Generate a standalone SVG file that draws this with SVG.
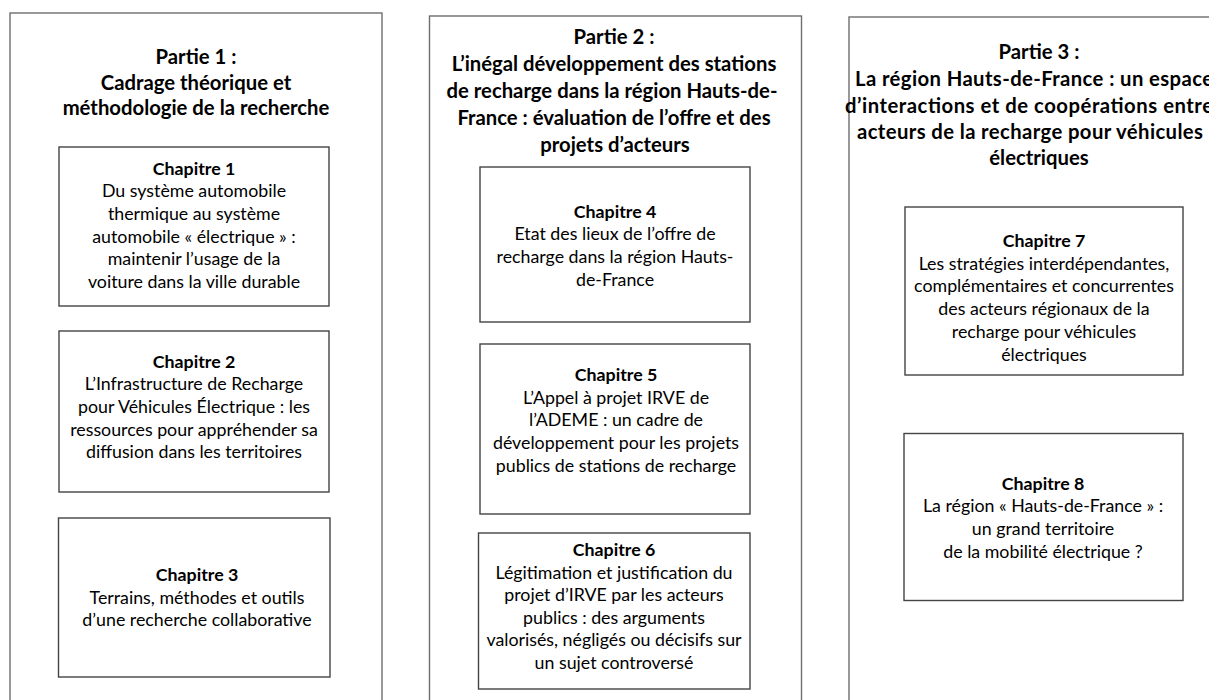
<svg xmlns="http://www.w3.org/2000/svg" width="1209" height="700" viewBox="0 0 1209 700">
<style>
.part{fill:#fff;stroke:#6e6e6e;stroke-width:1.4}
.chap{fill:#fff;stroke:#444;stroke-width:1.4}
.t{font-family:Lato,"Liberation Sans",sans-serif;font-weight:700;font-size:20.3px;fill:#000;text-anchor:middle}
.c{font-family:Lato,"Liberation Sans",sans-serif;font-size:17.8px;fill:#000;text-anchor:middle}
.cb{font-weight:700}
.s{text-anchor:start}
</style>
<rect width="1209" height="700" fill="#fff"/>
<g id="partie1">
<rect class="part" x="10" y="13" width="372" height="700"/>
<text class="t" x="196"><tspan x="196" y="64">Partie 1 :</tspan><tspan x="196" y="89.5">Cadrage théorique et</tspan><tspan x="196" y="115">méthodologie de la recherche</tspan></text>
</g>
<g id="chapitre1">
<rect class="chap" x="59" y="147" width="270" height="159"/>
<text class="c" x="194"><tspan class="cb" x="194" y="174.5">Chapitre 1</tspan><tspan x="194" y="197">Du système automobile</tspan><tspan x="194" y="219.8">thermique au système</tspan><tspan x="194" y="242.6">automobile « électrique » :</tspan><tspan x="194" y="265.4">maintenir l’usage de la</tspan><tspan x="194" y="288.2">voiture dans la ville durable</tspan></text>
</g>
<g id="chapitre2">
<rect class="chap" x="59" y="331" width="270" height="161"/>
<text class="c" x="194"><tspan class="cb" x="194" y="367.5">Chapitre 2</tspan><tspan x="194" y="390.2">L’Infrastructure de Recharge</tspan><tspan x="194" y="412.9">pour Véhicules Électrique : les</tspan><tspan x="194" y="435.6">ressources pour appréhender sa</tspan><tspan x="194" y="458.3">diffusion dans les territoires</tspan></text>
</g>
<g id="chapitre3">
<rect class="chap" x="58.5" y="518" width="271.5" height="159"/>
<text class="c" x="197"><tspan class="cb" x="197" y="581">Chapitre  3</tspan><tspan x="197" y="603.7">Terrains, méthodes et outils</tspan><tspan x="197" y="626.4">d’une recherche collaborative</tspan></text>
</g>
<g id="partie2">
<rect class="part" x="429.5" y="16" width="372" height="700"/>
<text class="t" x="614"><tspan x="614" y="43.5">Partie 2 :</tspan><tspan x="614" y="70.5">L’inégal développement des stations</tspan><tspan x="612" y="97.5">de recharge dans la région Hauts-de-</tspan><tspan x="614" y="124.5">France : évaluation de l’offre et des</tspan><tspan x="615" y="151.5">projets d’acteurs</tspan></text>
</g>
<g id="chapitre4">
<rect class="chap" x="480" y="167" width="270" height="155"/>
<text class="c" x="615"><tspan class="cb" x="615" y="217.5">Chapitre 4</tspan><tspan x="615" y="240.3">Etat des lieux de l’offre de</tspan><tspan x="615" y="263.1">recharge dans la région Hauts-</tspan><tspan x="615" y="285.9">de-France</tspan></text>
</g>
<g id="chapitre5">
<rect class="chap" x="480" y="344" width="270" height="170"/>
<text class="c" x="616"><tspan class="cb" x="616" y="381">Chapitre  5</tspan><tspan x="616" y="403.7">L’Appel à projet IRVE de</tspan><tspan x="616" y="426.4">l’ADEME : un cadre de</tspan><tspan x="616" y="449.1">développement pour les projets</tspan><tspan x="616" y="471.8">publics de stations de recharge</tspan></text>
</g>
<g id="chapitre6">
<rect class="chap" x="478.5" y="533" width="271.5" height="156"/>
<text class="c" x="614"><tspan class="cb" x="614" y="556">Chapitre 6</tspan><tspan x="614" y="578.6">Légitimation et justification du</tspan><tspan x="614" y="601.2">projet d’IRVE par les acteurs</tspan><tspan x="614" y="623.8">publics : des arguments</tspan><tspan x="614" y="646.4">valorisés, négligés ou décisifs sur</tspan><tspan x="614" y="669">un sujet controversé</tspan></text>
</g>
<g id="partie3">
<rect class="part" x="849" y="17" width="380" height="700"/>
<text class="t" x="1039"><tspan x="1039" y="59">Partie 3 :</tspan><tspan class="s" x="855" y="86" textLength="358">La région Hauts-de-France : un espace</tspan><tspan class="s" x="845" y="112.5" textLength="368">d’interactions et de coopérations entre</tspan><tspan class="s" x="857" y="139" textLength="346">acteurs de la recharge pour véhicules</tspan><tspan x="1039" y="165">électriques</tspan></text>
</g>
<g id="chapitre7">
<rect class="chap" x="905" y="207" width="278" height="168"/>
<text class="c" x="1044"><tspan class="cb" x="1044" y="247">Chapitre  7</tspan><tspan x="1044" y="269.7">Les stratégies interdépendantes,</tspan><tspan x="1044" y="292.4">complémentaires et concurrentes</tspan><tspan x="1044" y="315.1">des acteurs régionaux de la</tspan><tspan x="1044" y="337.8">recharge pour véhicules</tspan><tspan x="1044" y="360.5">électriques</tspan></text>
</g>
<g id="chapitre8">
<rect class="chap" x="904" y="433.5" width="279" height="167"/>
<text class="c" x="1043"><tspan class="cb" x="1043" y="489.5">Chapitre 8</tspan><tspan x="1043" y="512.2">La région « Hauts-de-France » :</tspan><tspan x="1043" y="534.9">un grand territoire</tspan><tspan x="1043" y="557.6">de la mobilité électrique ?</tspan></text>
</g>
<g id="connecteurs"></g>
</svg>
